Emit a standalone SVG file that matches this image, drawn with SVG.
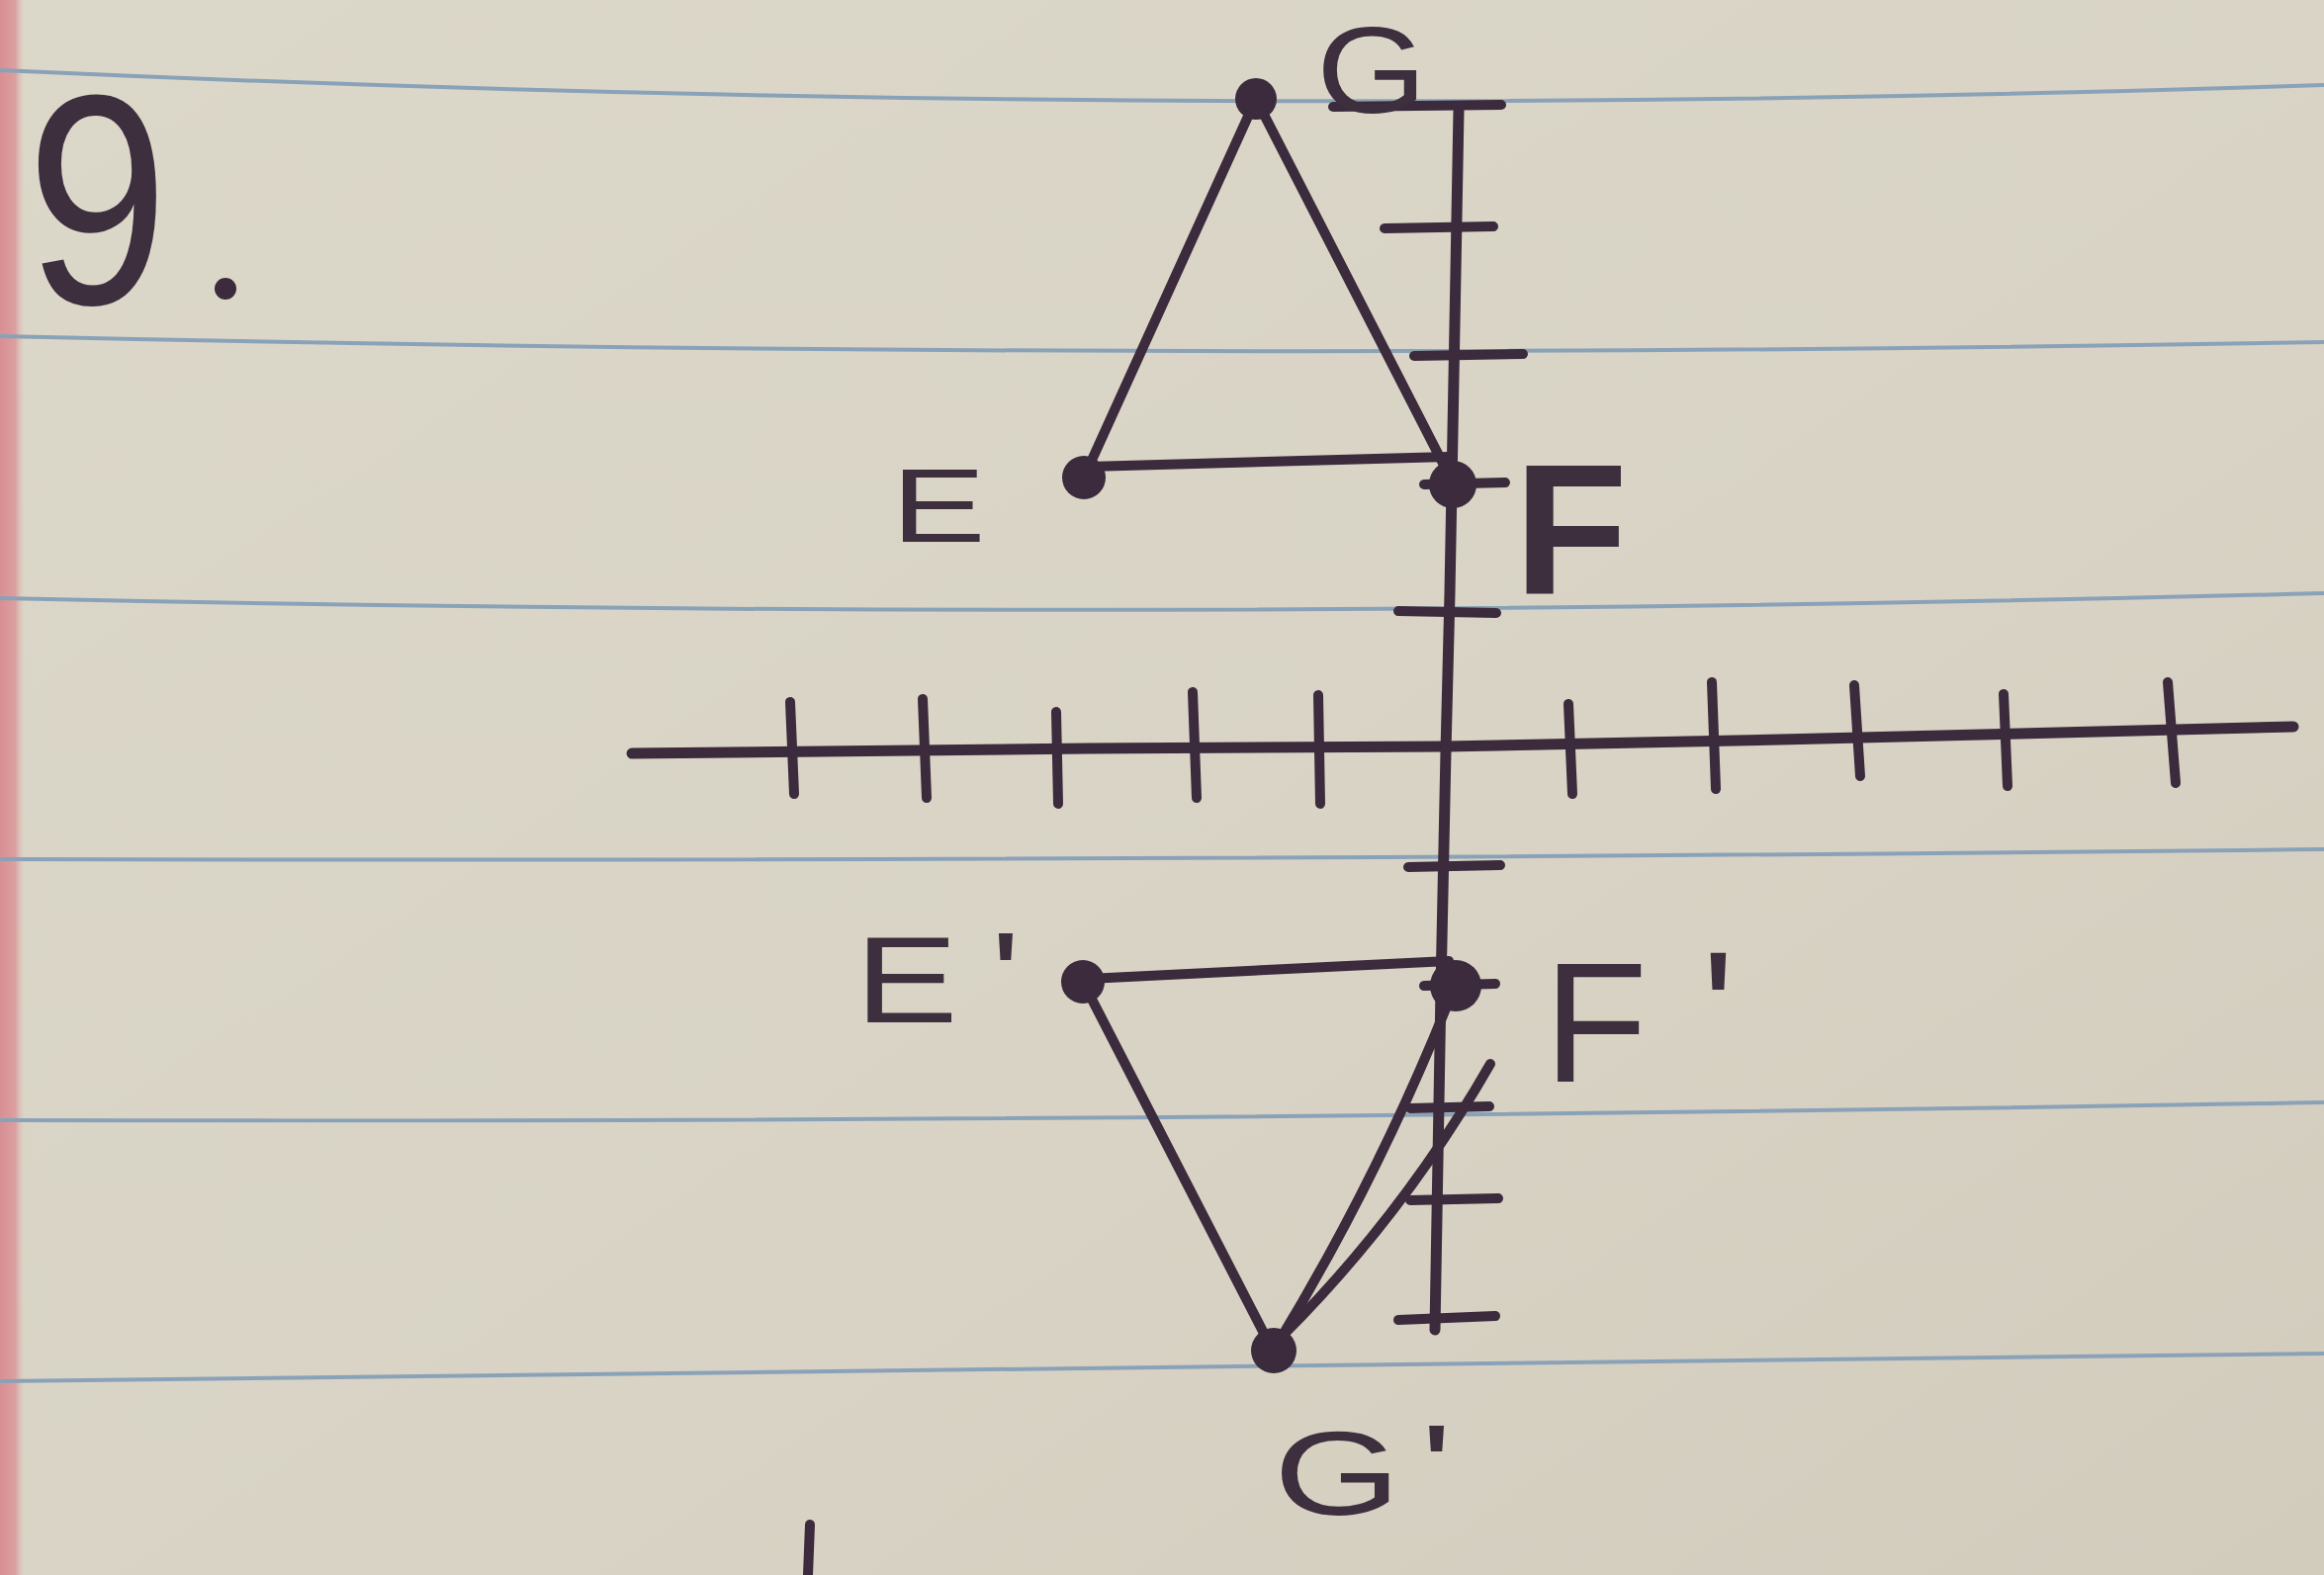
<svg xmlns="http://www.w3.org/2000/svg" width="2350" height="1593" viewBox="0 0 2350 1593">
  <defs>
    <linearGradient id="paperGrad" x1="0" y1="0" x2="1" y2="1">
      <stop offset="0" stop-color="#dcd8c9"/>
      <stop offset="0.6" stop-color="#d8d3c4"/>
      <stop offset="1" stop-color="#d2ccbd"/>
    </linearGradient>
    <linearGradient id="marginGrad" x1="0" y1="0" x2="1" y2="0">
      <stop offset="0" stop-color="#d88f93"/>
      <stop offset="0.6" stop-color="#dc9fa0"/>
      <stop offset="1" stop-color="#d8d3c4" stop-opacity="0"/>
    </linearGradient>
    <style>
      .rule { fill: none; stroke: #8aa2b8; stroke-width: 4; }
      .ink { fill: none; stroke: #3b2b3c; stroke-linecap: round; stroke-linejoin: round; }
      .axis { stroke-width: 11; }
      .tick { stroke-width: 10; }
      .edge { stroke-width: 10; }
      .dot { fill: #3b2b3c; }
      .label { fill: #3d2f3e; font-family: "Liberation Sans", Arial, sans-serif; }
    </style>
  </defs>

  <!-- paper -->
  <rect x="0" y="0" width="2350" height="1593" fill="url(#paperGrad)"/>
  <rect x="0" y="0" width="26" height="1593" fill="url(#marginGrad)"/>
  <g id="rules">
    <path class="rule" d="M0,71 Q1175,125 2350,86"/>
    <path class="rule" d="M0,340 Q1175,367 2350,346"/>
    <path class="rule" d="M0,605 Q1175,631 2350,600"/>
    <path class="rule" d="M0,869 Q1175,872 2350,859"/>
    <path class="rule" d="M0,1133 Q1175,1136 2350,1115"/>
    <path class="rule" d="M0,1397 Q1175,1387 2350,1369"/>
  </g>

  <!-- problem number -->
  <g id="problem-number">
    <text class="label" transform="translate(37,307) scale(0.85,1)" x="-12" y="0" font-size="303" fill="#463a47">9</text>
    <circle class="dot" cx="228" cy="292" r="11"/>
  </g>

  <!-- axes -->
  <g id="axes" class="ink">
    <path class="axis" d="M639,762 L1100,757 L1462,755 L1800,748 L2319,735"/>
    <path class="axis" d="M1475,112 L1466,600 L1462,760 L1457,1000 L1451,1345"/>
    <!-- x ticks -->
    <path class="tick" d="M799,710 L803,803"/>
    <path class="tick" d="M933,707 L937,807"/>
    <path class="tick" d="M1068,720 L1070,813"/>
    <path class="tick" d="M1206,700 L1210,807"/>
    <path class="tick" d="M1333,703 L1335,813"/>
    <path class="tick" d="M1586,712 L1590,803"/>
    <path class="tick" d="M1731,690 L1735,798"/>
    <path class="tick" d="M1875,693 L1881,785"/>
    <path class="tick" d="M2026,702 L2030,795"/>
    <path class="tick" d="M2192,690 L2200,792"/>
    <!-- y ticks -->
    <path class="tick" d="M1348,108 L1518,106"/>
    <path class="tick" d="M1400,231 L1510,229"/>
    <path class="tick" d="M1430,360 L1540,358"/>
    <path class="tick" d="M1440,490 L1522,488"/>
    <path class="tick" d="M1414,618 L1513,620"/>
    <path class="tick" d="M1424,877 L1517,875"/>
    <path class="tick" d="M1440,997 L1512,995"/>
    <path class="tick" d="M1426,1121 L1506,1119"/>
    <path class="tick" d="M1426,1214 L1515,1212"/>
    <path class="tick" d="M1414,1335 L1512,1331"/>
  </g>

  <!-- connectors: triangle edges -->
  <g id="connectors" class="ink">
    <path class="edge" d="M1270,100 L1096,483"/>
    <path class="edge" d="M1270,100 L1469,488"/>
    <path class="edge" d="M1100,472 L1465,462"/>
    <path class="edge" d="M1100,990 L1465,972"/>
    <path class="edge" d="M1095,993 L1288,1368"/>
    <path class="edge" d="M1290,1362 Q1395,1190 1470,1000"/>
    <path class="edge" d="M1296,1352 Q1420,1228 1507,1076"/>
  </g>

  <!-- nodes -->
  <g id="node-G">
    <circle class="dot" cx="1270" cy="100" r="21"/>
    <text class="label" transform="translate(1338,114) scale(1.15,1)" x="-6" y="0" font-size="125">G</text>
  </g>
  <g id="node-E">
    <circle class="dot" cx="1096" cy="483" r="22"/>
    <text class="label" transform="translate(912,548) scale(1.35,1)" x="-8" y="0" font-size="106">E</text>
  </g>
  <g id="node-F">
    <circle class="dot" cx="1469" cy="490" r="24"/>
    <text class="label" x="1531" y="600" font-size="188" font-weight="bold">F</text>
  </g>
  <g id="node-E-prime">
    <circle class="dot" cx="1095" cy="993" r="22"/>
    <text class="label" transform="translate(877,1034) scale(1.25,1)" font-size="125"><tspan x="-10" y="0">E</tspan><tspan x="100" y="-4">'</tspan></text>
  </g>
  <g id="node-F-prime">
    <circle class="dot" cx="1472" cy="997" r="26"/>
    <text class="label" font-size="172"><tspan x="1561" y="1094">F</tspan><tspan x="1721" y="1083">'</tspan></text>
  </g>
  <g id="node-G-prime">
    <circle class="dot" cx="1288" cy="1366" r="23"/>
    <text class="label" transform="translate(1296,1532) scale(1.38,1)" font-size="120"><tspan x="-6" y="0">G</tspan><tspan x="102" y="-7">'</tspan></text>
  </g>

  <!-- stray pen mark at bottom edge -->
  <g id="stray-mark" class="ink">
    <path class="tick" d="M819,1542 L817,1593"/>
  </g>
</svg>
